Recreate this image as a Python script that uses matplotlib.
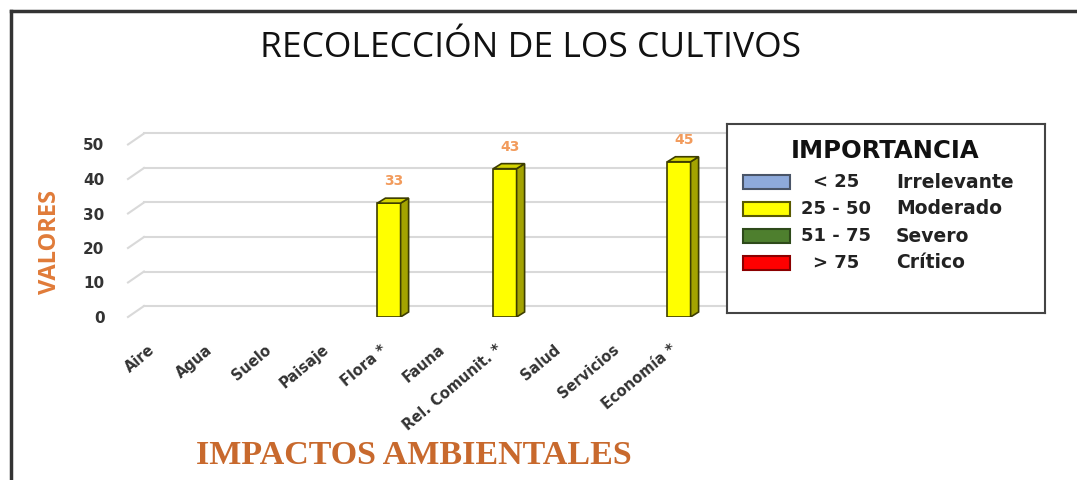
import matplotlib
matplotlib.use("Agg")
import matplotlib.pyplot as plt
from matplotlib.patches import Polygon, Rectangle
from matplotlib.lines import Line2D
from matplotlib.transforms import ScaledTranslation

# ── datos ────────────────────────────────────────────────────────────────
categorias = ["Aire", "Agua", "Suelo", "Paisaje", "Flora *", "Fauna",
              "Rel. Comunit. *", "Salud", "Servicios", "Economía *"]
valores = [0, 0, 0, 0, 33, 0, 43, 0, 0, 45]

rangos = ["< 25", "25 - 50", "51 - 75", "> 75"]
niveles = ["Irrelevante", "Moderado", "Severo", "Crítico"]
colores_nivel = ["#8EAADB", "#FFFF00", "#4E7F2E", "#FF0000"]
bordes_nivel = ["#4A5568", "#5A5A00", "#2E4A1A", "#8B0000"]

W, H = 1077, 480
fig = plt.figure(figsize=(W / 100, H / 100), dpi=100)
fig.patch.set_facecolor("white")

def fx(px): return px / W
def fy(py): return 1 - py / H

# marco (solo izquierda y arriba visibles)
fig.add_artist(Line2D([fx(11), fx(11)], [fy(11), 0], color="#333333", lw=2.5))
fig.add_artist(Line2D([fx(11), 1], [fy(11), fy(11)], color="#333333", lw=2.5))

fig.text(fx(531), fy(48), "RECOLECCIÓN DE LOS CULTIVOS", ha="center", va="center",
         fontsize=25.5, family="Open Sans", color="#111111")

# ── ejes ─────────────────────────────────────────────────────────────────
YMAX = 56
ax = fig.add_axes([fx(128), fy(317), (708 - 128) / W, YMAX * 3.45 / H])
ax.set_xlim(-0.5, len(categorias) - 0.5)
ax.set_ylim(0, YMAX)
for s in ax.spines.values():
    s.set_visible(False)

# profundidad 3D (en unidades de datos)
px_x = 58.0   # px por categoría
px_y = 3.45   # px por unidad
wall_dx, wall_dy = 16 / px_x, 11 / px_y
bar_dx, bar_dy = 8 / px_x, 5 / px_y

for v in range(0, 51, 10):
    ax.plot([-0.5, -0.5 + wall_dx], [v, v + wall_dy], color="#d9d9d9", lw=1.5,
            zorder=1, clip_on=False)
    ax.plot([-0.5 + wall_dx, 10.2], [v + wall_dy, v + wall_dy], color="#d9d9d9",
            lw=1.5, zorder=1, clip_on=False)

bw = 0.4
for i, v in enumerate(valores):
    if v <= 0:
        continue
    x0, x1 = i - bw / 2, i + bw / 2
    ax.add_patch(Rectangle((x0, 0), bw, v, facecolor="#FFFF00",
                           edgecolor="#3d3d00", lw=1.2, zorder=3))
    ax.add_patch(Polygon([(x1, 0), (x1 + bar_dx, bar_dy), (x1 + bar_dx, v + bar_dy), (x1, v)],
                         closed=True, facecolor="#A3A300", edgecolor="#3d3d00",
                         lw=1.2, zorder=3))
    ax.add_patch(Polygon([(x0, v), (x0 + bar_dx, v + bar_dy), (x1 + bar_dx, v + bar_dy), (x1, v)],
                         closed=True, facecolor="#D4D400", edgecolor="#3d3d00",
                         lw=1.2, zorder=3))
    ax.annotate(str(v), (i + 0.08, v + bar_dy), xytext=(0, 7), textcoords="offset points",
                ha="center", va="bottom", fontsize=10, fontweight="bold",
                color="#F29B5C", zorder=4)

ax.set_yticks(range(0, 51, 10))
ax.set_yticklabels([str(t) for t in range(0, 51, 10)], fontsize=11,
                   fontweight="bold", color="#333333")
ax.tick_params(axis="y", length=0, pad=17)
ax.set_xticks(range(len(categorias)))
ax.set_xticklabels(categorias, rotation=40, ha="right", rotation_mode="anchor",
                   fontsize=10.5, fontweight="bold", color="#333333")
ax.tick_params(axis="x", length=0, pad=18)
shift = ScaledTranslation(-9 / 100, 0, fig.dpi_scale_trans)
for lab in ax.get_xticklabels():
    lab.set_transform(lab.get_transform() + shift)

fig.text(fx(50), fy(242), "VALORES", rotation=90, ha="center", va="center",
         fontsize=17, fontweight="bold", color="#E07B39", family="Open Sans")
fig.text(fx(414), fy(455), "IMPACTOS AMBIENTALES", ha="center", va="center",
         fontsize=24.5, fontweight="bold", color="#C8692D", family="Liberation Serif")

# ── leyenda ──────────────────────────────────────────────────────────────
lg = fig.add_axes([fx(727), fy(313), (1045 - 727) / W, (313 - 124) / H])
lg.set_xlim(727, 1045)
lg.set_ylim(313, 124)
lg.set_xticks([])
lg.set_yticks([])
for s in lg.spines.values():
    s.set_color("#444444")
    s.set_linewidth(1.5)

lg.text(885, 151, "IMPORTANCIA", ha="center", va="center", fontsize=17.5,
        fontweight="bold", color="#111111")
row_y = [182, 209, 236, 263]
for yy, r, n, c, e in zip(row_y, rangos, niveles, colores_nivel, bordes_nivel):
    lg.add_patch(Rectangle((743, yy - 7), 47, 14, facecolor=c, edgecolor=e, lw=1.5))
    lg.text(836, yy, r, ha="center", va="center", fontsize=13,
            fontweight="bold", color="#222222")
    lg.text(896, yy, n, ha="left", va="center", fontsize=13.5,
            fontweight="bold", color="#222222")

fig.savefig("out.png", dpi=100, facecolor="white")
